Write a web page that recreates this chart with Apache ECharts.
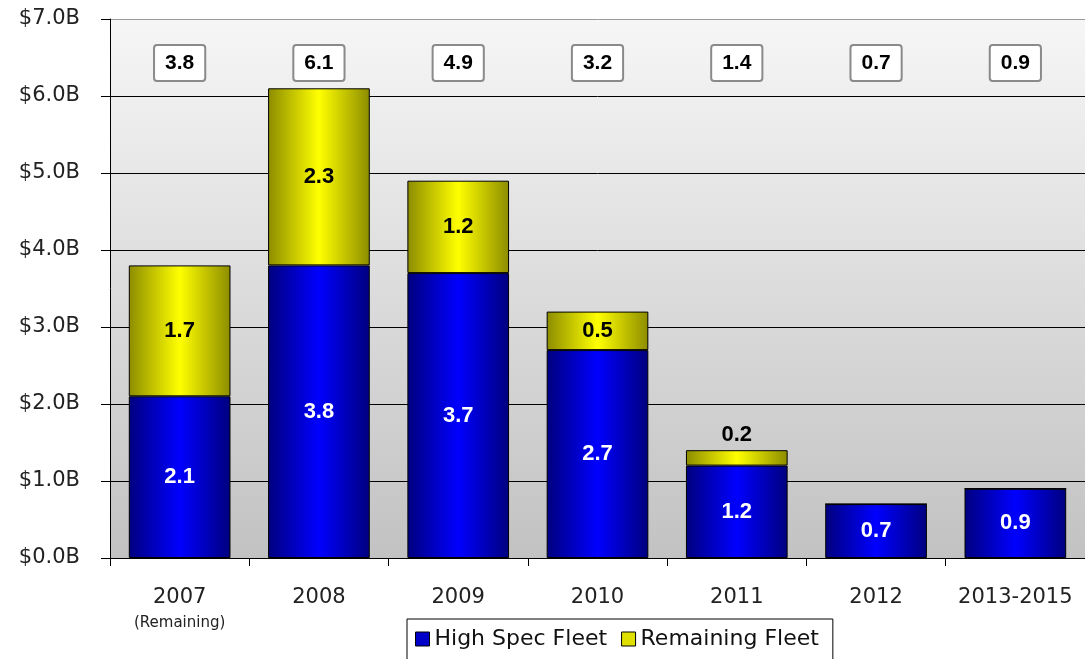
<!DOCTYPE html>
<html>
<head>
<meta charset="utf-8">
<script src="https://cdn.jsdelivr.net/npm/echarts@6/dist/echarts.min.js"></script>
<style>html,body{margin:0;padding:0;background:#fff}#c{width:1085px;height:659px}</style>
</head>
<body>
<div id="c"></div>
<script>
var categories = ['2007', '2008', '2009', '2010', '2011', '2012', '2013-2015'];
var highSpec = [2.1, 3.8, 3.7, 2.7, 1.2, 0.7, 0.9];
var remaining = [1.7, 2.3, 1.2, 0.5, 0.2, 0, 0];
var totals = ['3.8', '6.1', '4.9', '3.2', '1.4', '0.7', '0.9'];
var yTicks = ['$0.0B', '$1.0B', '$2.0B', '$3.0B', '$4.0B', '$5.0B', '$6.0B', '$7.0B'];

var FONT = '"DejaVu Sans", sans-serif';
var BOLD = '"Liberation Sans", Arial, sans-serif';

function hGrad(edge, mid) {
  return new echarts.graphic.LinearGradient(0, 0, 1, 0, [
    {offset: 0, color: edge}, {offset: 0.5, color: mid}, {offset: 1, color: edge}
  ]);
}

var remData = remaining.map(function (v, i) {
  var item = {value: v};
  if (v === 0) item.label = {show: false};
  else if (v < 0.3) item.label = {position: 'top', distance: 4};
  return item;
});

var chart = echarts.init(document.getElementById('c'));
chart.setOption({
  animation: false,
  backgroundColor: '#ffffff',
  grid: {
    left: 110, right: 0, top: 19, bottom: 101,
    show: true,
    borderWidth: 0,
    backgroundColor: new echarts.graphic.LinearGradient(0, 0, 0, 1, [
      {offset: 0, color: '#f6f6f6'}, {offset: 1, color: '#c2c2c2'}
    ])
  },
  legend: {
    left: 407, top: 619,
    padding: [9, 14, 20, 8],
    itemGap: 14,
    itemWidth: 14, itemHeight: 14,
    icon: 'rect',
    borderColor: '#000', borderWidth: 1,
    backgroundColor: '#fff',
    textStyle: {fontFamily: FONT, fontSize: 22, color: '#111', padding: [0, 0, 0, 0]},
    data: [
      {name: 'High Spec Fleet', itemStyle: {color: '#0000c8', borderColor: '#000', borderWidth: 1}},
      {name: 'Remaining Fleet', itemStyle: {color: '#e0e000', borderColor: '#000', borderWidth: 1}}
    ]
  },
  xAxis: [{
    type: 'category',
    data: categories,
    axisLine: {lineStyle: {color: '#000', width: 1}},
    axisTick: {show: true, length: 8, lineStyle: {color: '#000'}},
    axisLabel: {
      interval: 0,
      margin: 28,
      fontFamily: FONT, fontSize: 21, color: '#222', lineHeight: 24,
      formatter: function (v) { return v === '2007' ? v + '\n{s|(Remaining)}' : v; },
      rich: {s: {fontFamily: FONT, fontSize: 15, color: '#222', lineHeight: 26}}
    },
    splitLine: {show: false}
  }, {
    type: 'category',
    position: 'top',
    data: totals,
    axisLine: {show: false},
    axisTick: {show: false},
    axisLabel: {
      inside: true,
      interval: 0,
      margin: 27,
      fontFamily: BOLD, fontWeight: 'bold', fontSize: 21, color: '#000',
      backgroundColor: '#fff',
      borderColor: '#8a8a8a', borderWidth: 2, borderRadius: 2,
      padding: [7, 10, 6, 10]
    }
  }],
  yAxis: {
    type: 'value',
    min: 0, max: 7, interval: 1,
    axisLine: {show: true, lineStyle: {color: '#000'}},
    axisTick: {show: true, length: 9, lineStyle: {color: '#000'}},
    axisLabel: {
      margin: 30,
      fontFamily: FONT, fontSize: 21, color: '#222',
      formatter: function (v) { return yTicks[Math.round(v)]; }
    },
    splitLine: {lineStyle: {color: ['#000', '#000', '#000', '#000', '#000', '#000', '#000', '#9a9a9a'], width: 1}}
  },
  series: [{
    name: 'High Spec Fleet',
    type: 'bar',
    stack: 'fleet',
    barCategoryGap: '27%',
    data: highSpec,
    itemStyle: {color: hGrad('#00007e', '#0000ff'), borderColor: '#000', borderWidth: 1},
    label: {
      show: true, position: 'inside',
      fontFamily: BOLD, fontWeight: 'bold', fontSize: 22, color: '#fff'
    }
  }, {
    name: 'Remaining Fleet',
    type: 'bar',
    stack: 'fleet',
    data: remData,
    itemStyle: {color: hGrad('#8c8c00', '#ffff00'), borderColor: '#000', borderWidth: 1},
    label: {
      show: true, position: 'inside',
      fontFamily: BOLD, fontWeight: 'bold', fontSize: 22, color: '#000'
    }
  }]
});
</script>
</body>
</html>
